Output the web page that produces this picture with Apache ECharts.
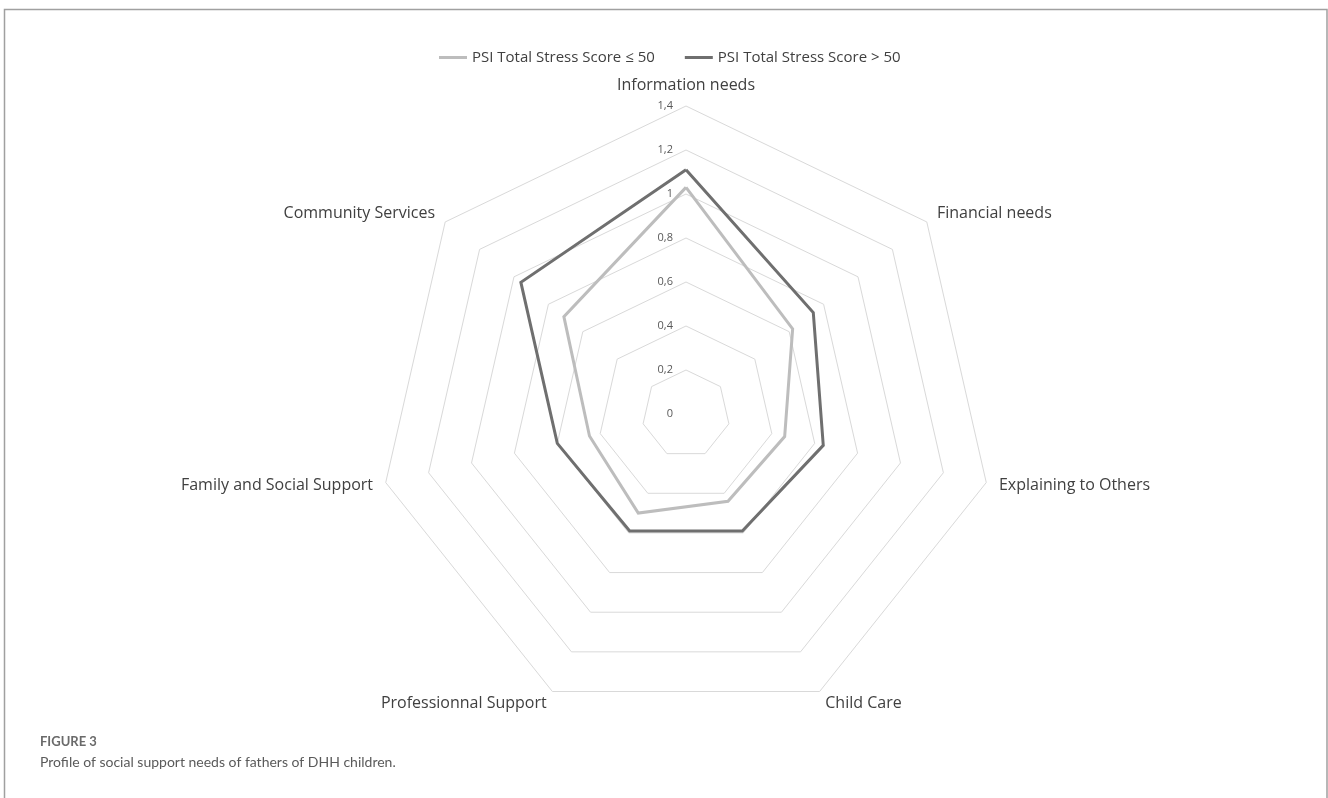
<!DOCTYPE html>
<html>
<head>
<meta charset="utf-8">
<script src="https://cdn.jsdelivr.net/npm/echarts@6/dist/echarts.min.js"></script>
<style>
  html, body { margin: 0; padding: 0; background: #fff; }
  #chart { width: 1328px; height: 798px; }
</style>
</head>
<body>
<div id="chart"></div>
<script>
// Categories in clockwise order starting from the top (as in the original figure)
const categories = [
  'Information needs',
  'Financial needs',
  'Explaining to Others',
  'Child Care',
  'Professionnal Support',
  'Family and Social Support',
  'Community Services'
];
const seriesNames = ['PSI Total Stress Score \u2264 50', 'PSI Total Stress Score > 50'];
const lowStress  = [1.03, 0.62, 0.46, 0.44, 0.50, 0.45, 0.71];
const highStress = [1.11, 0.74, 0.64, 0.59, 0.59, 0.60, 0.96];
const axisMin = 0;
const axisMax = 1.4;
const axisInterval = 0.2;
const captionLabel = 'FIGURE 3';
const captionText = 'Profile of social support needs of fathers of DHH children.';

// ECharts radar lays indicators counter-clockwise; reorder so the picture runs clockwise
const order = categories.map((_, i) => (categories.length - i) % categories.length);
const reorder = arr => order.map(i => arr[i]);

const chart = echarts.init(document.getElementById('chart'), null, { renderer: 'canvas' });
const labelFont = '"Open Sans", "Noto Sans", sans-serif';

const option = {
  backgroundColor: '#ffffff',
  animation: false,
  legend: {
    top: 45,
    left: 434,
    itemWidth: 28,
    itemHeight: 3,
    itemGap: 30,
    icon: 'rect',
    textStyle: { fontFamily: labelFont, fontSize: 15, color: '#404040' },
    data: seriesNames
  },
  grid: { left: 686, top: 106, width: 1, height: 308 },
  xAxis: { type: 'value', show: false },
  yAxis: {
    type: 'value',
    min: axisMin, max: axisMax, interval: axisInterval,
    axisLine: { show: false }, axisTick: { show: false }, splitLine: { show: false },
    axisLabel: {
      margin: 13, fontSize: 11, color: '#595959', fontFamily: labelFont,
      formatter: v => String(Math.round(v * 10) / 10).replace('.', ',')
    }
  },
  radar: {
    center: [686, 414],
    radius: 308,
    startAngle: 90,
    splitNumber: Math.round((axisMax - axisMin) / axisInterval),
    shape: 'polygon',
    indicator: reorder(categories).map(n => ({ name: n, min: axisMin, max: axisMax })),
    axisName: { color: '#404040', fontSize: 16, fontFamily: labelFont },
    nameGap: 13,
    axisLine: { show: false },
    axisTick: { show: false },
    axisLabel: { show: false },
    splitArea: { show: false },
    splitLine: { lineStyle: { color: '#d9d9d9', width: 1 } }
  },
  series: [{
    type: 'radar',
    symbol: 'none',
    data: [
      { name: seriesNames[0], value: reorder(lowStress),
        lineStyle: { color: '#bdbdbd', width: 3, join: 'miter' }, itemStyle: { color: '#bdbdbd' } },
      { name: seriesNames[1], value: reorder(highStress),
        lineStyle: { color: '#6f6f6f', width: 3, join: 'miter' }, itemStyle: { color: '#6f6f6f' } }
    ]
  }],
  graphic: [
    { type: 'polyline', silent: true,
      shape: { points: [[4.5, 798], [4.5, 9.5], [1327, 9.5], [1327, 798]] },
      style: { stroke: '#a0a0a0', lineWidth: 1.5, fill: null } },
    { type: 'text', left: 40, top: 735,
      style: { text: captionLabel, font: 'bold 13px Lato, "Open Sans", sans-serif', fill: '#6a6a6a' } },
    { type: 'text', left: 40, top: 755,
      style: { text: captionText, font: '14px Lato, "Open Sans", sans-serif', fill: '#5a5a5a' } }
  ]
};
chart.setOption(option);
</script>
</body>
</html>
